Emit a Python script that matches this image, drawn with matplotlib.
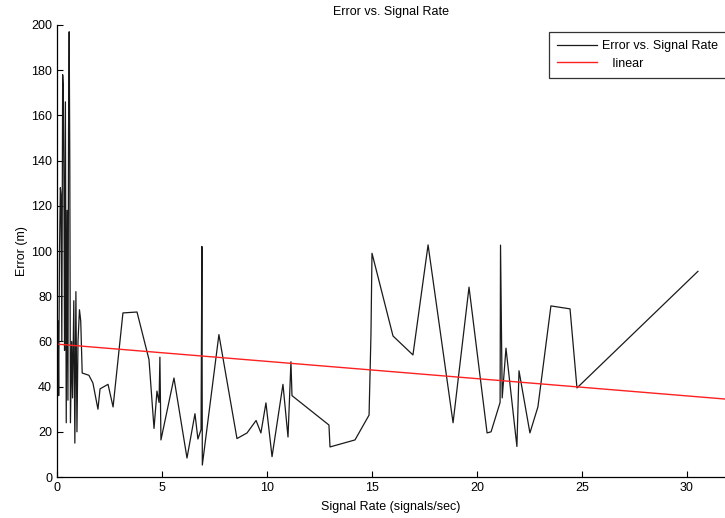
import matplotlib
matplotlib.use("Agg")
import matplotlib.pyplot as plt
import numpy as np

plt.rcParams['font.family'] = ['Liberation Sans', 'DejaVu Sans']

# Signal rate (signals/sec)
signal_rate = [
    0.05, 0.08, 0.12, 0.16, 0.19, 0.23, 0.27, 0.30, 0.33, 0.36,
    0.40, 0.44, 0.48, 0.52, 0.55, 0.58, 0.61, 0.64, 0.70, 0.74,
    0.80, 0.85, 0.90, 0.95, 1.00, 1.07, 1.13, 1.20, 1.52, 1.71,
    1.95, 2.05, 2.43, 2.67, 3.14, 3.81, 4.38, 4.62, 4.71, 4.76,
    4.86, 4.90, 4.95, 5.57, 6.19, 6.57, 6.71, 6.86, 6.90, 6.92,
    7.71, 8.57, 9.05, 9.48, 9.71, 9.95, 10.24, 10.76, 11.00, 11.14,
    11.19, 12.95, 13.00, 14.19, 14.86, 14.95, 15.00, 16.00, 16.95, 17.67,
    18.86, 19.62, 20.48, 20.67, 21.10, 21.12, 21.20, 21.38, 21.90, 22.00,
    22.52, 22.90, 23.52, 24.43, 24.76, 30.52,
]
# Error (m)
error_m = [
    69, 36, 100, 128, 125, 60, 178, 172, 130, 56,
    166, 24, 118, 34, 153, 197, 139, 24, 60, 35,
    78, 15, 82, 20, 60, 74, 69, 46, 45, 41.6,
    30, 39, 41, 31, 72.6, 73, 52, 21.5, 32, 38,
    33, 53, 16.4, 43.8, 8.4, 28, 16.8, 21, 102, 5.3,
    63, 17, 19.5, 25, 19.5, 32.8, 9, 41, 17.7, 51,
    36, 23, 13.3, 16.4, 27.4, 62.8, 99, 62.4, 54, 102.7,
    24, 84, 19.5, 20, 33, 102.6, 35, 57, 13.5, 47,
    19.5, 31, 75.7, 74.4, 39.4, 91,
]
# Linear fit coefficients (slope, intercept)
linear_coef = [-0.764, 58.8]

x_ticks = [0, 5, 10, 15, 20, 25, 30]
y_ticks = [0, 20, 40, 60, 80, 100, 120, 140, 160, 180, 200]

W, H = 725, 518
fig = plt.figure(figsize=(W / 100, H / 100), dpi=100)
ax = fig.add_axes([57 / W, 1 - 477 / H, (W - 57) / W, (477 - 25) / H])

ax.plot(signal_rate, error_m, color='#1a1a1a', lw=0.9, label='Error vs. Signal Rate')
xl = np.array([0, 32])
ax.plot(xl, np.polyval(linear_coef, xl), color='#ff2020', lw=1.0, label='   linear')

ax.set_xlim(0, (W - 57) / 21)
ax.set_ylim(0, 200)
ax.set_xticks(x_ticks)
ax.set_yticks(y_ticks)
ax.tick_params(direction='in', length=4, width=0.8, labelsize=9, colors='black')
ax.spines['top'].set_visible(False)
ax.spines['right'].set_visible(False)
for s in ['left', 'bottom']:
    ax.spines[s].set_linewidth(0.9)

ax.set_title('Error vs. Signal Rate', fontsize=9, pad=7)
ax.set_xlabel('Signal Rate (signals/sec)', fontsize=9, labelpad=5)
ax.set_ylabel('Error (m)', fontsize=9, labelpad=2)

leg = fig.legend(loc='upper left', bbox_to_anchor=(549 / W, 1 - 32 / H),
                 fontsize=9, frameon=True, fancybox=False, shadow=False,
                 handlelength=3.2, handletextpad=0.35, labelspacing=0.45,
                 borderpad=0.65, borderaxespad=0)
leg.get_frame().set_edgecolor('black')
leg.get_frame().set_linewidth(0.9)

fig.savefig('out.png', dpi=100)
